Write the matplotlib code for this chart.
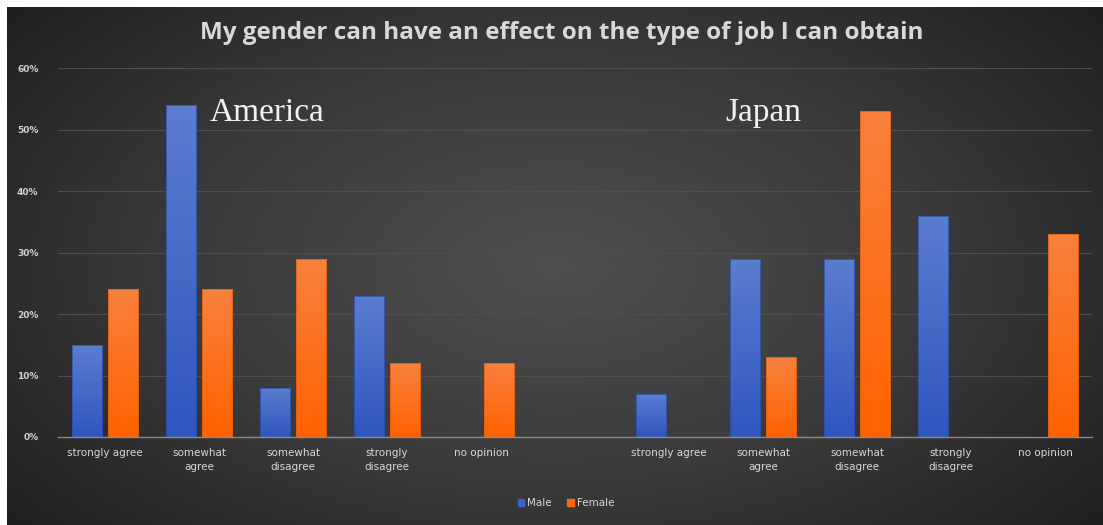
import numpy as np
import matplotlib
matplotlib.use("Agg")
import matplotlib.pyplot as plt
from matplotlib.colors import LinearSegmentedColormap

title = "My gender can have an effect on the type of job I can obtain"
categories = ["strongly agree", "somewhat\nagree", "somewhat\ndisagree", "strongly\ndisagree", "no opinion",
              "",
              "strongly agree", "somewhat\nagree", "somewhat\ndisagree", "strongly\ndisagree", "no opinion"]
male = [15, 54, 8, 23, 0, 0, 7, 29, 29, 36, 0]
female = [24, 24, 29, 12, 12, 0, 0, 13, 53, 0, 33]
yticks = [0, 10, 20, 30, 40, 50, 60]

W, H = 1103, 525
fig = plt.figure(figsize=(W / 100, H / 100), dpi=100)
fig.patch.set_facecolor("white")

# radial background
bg = fig.add_axes([7 / W, 0, (W - 7) / W, (H - 7) / H])
bg.set_axis_off()
yy, xx = np.mgrid[-1:1:300j, -1:1:600j]
r = np.sqrt((xx * 0.9) ** 2 + (yy * 0.75) ** 2)
bg_cmap = LinearSegmentedColormap.from_list("bg", ["#4f4f4f", "#3a3a3a", "#1c1c1c"])
bg.imshow(r, cmap=bg_cmap, aspect="auto", extent=[0, 1, 0, 1], vmin=0, vmax=1.25)

# main axes: 0% at y=437, 60% at y=68, x from 58 to 1092
x0, x1 = 58, 1092
y0, y1 = 437, 68
ax = fig.add_axes([x0 / W, (H - y0) / H, (x1 - x0) / W, (y0 - y1) / H])
ax.patch.set_alpha(0)
x = np.arange(len(categories))

blue_cmap = LinearSegmentedColormap.from_list("b", ["#2f56bf", "#5b7ed0"])
orange_cmap = LinearSegmentedColormap.from_list("o", ["#ff6200", "#f7813e"])
grad = np.linspace(0, 1, 256).reshape(-1, 1)

bw = 0.32
for vals, off, cmap, edge in [(male, -0.19, blue_cmap, "#2a4aa0"), (female, 0.19, orange_cmap, "#d95a10")]:
    bars = ax.bar(x + off, vals, width=bw, color="none", edgecolor=edge, linewidth=0.5, zorder=3)
    for b in bars:
        h = b.get_height()
        if h <= 0:
            continue
        im = ax.imshow(grad, cmap=cmap, origin="lower", aspect="auto",
                       extent=[b.get_x(), b.get_x() + b.get_width(), 0, h], zorder=2)
        im.set_clip_path(b)

ax.set_xlim(-0.5, len(categories) - 0.5)
ax.set_ylim(0, 60)

ax.set_yticks(yticks)
ax.set_yticklabels([f"{v}%" for v in yticks], color="#d0d0d0", fontsize=6.5, fontweight="bold")
ax.set_xticks(x)
ax.set_xticklabels(categories, color="#d8d8d8", fontsize=7.5, linespacing=1.5)
ax.tick_params(length=0, pad=8)
ax.tick_params(axis="y", pad=14)
ax.grid(axis="y", color="#4e4e4e", linewidth=0.8, zorder=0)
for s in ["top", "right", "left"]:
    ax.spines[s].set_visible(False)
ax.spines["bottom"].set_color("#8a8a8a")
ax.spines["bottom"].set_linewidth(1.0)
ax.spines["bottom"].set_zorder(4)

ax.text(1.11, 52.8, "America", family="Liberation Serif", fontsize=24, color="#f0f0f0", va="center")
ax.text(6.6, 52.8, "Japan", family="Liberation Serif", fontsize=24, color="#f0f0f0", va="center")

fig.text(562 / W, 1 - 33 / H, title, ha="center", va="center", fontsize=17.5,
         fontweight="bold", color="#d8d8d8", family="Open Sans")

# legend
hm = plt.Rectangle((0, 0), 1, 1, color="#3a62c8")
hf = plt.Rectangle((0, 0), 1, 1, color="#ff6a10")
leg = fig.legend([hm, hf], ["Male", "Female"], loc="center", bbox_to_anchor=(566 / W, 1 - 503 / H),
                 ncol=2, frameon=False, fontsize=7.5, handlelength=0.6, handleheight=0.6,
                 handletextpad=0.3, columnspacing=1.5)
for t in leg.get_texts():
    t.set_color("#d8d8d8")

fig.savefig("out.png", dpi=100)
